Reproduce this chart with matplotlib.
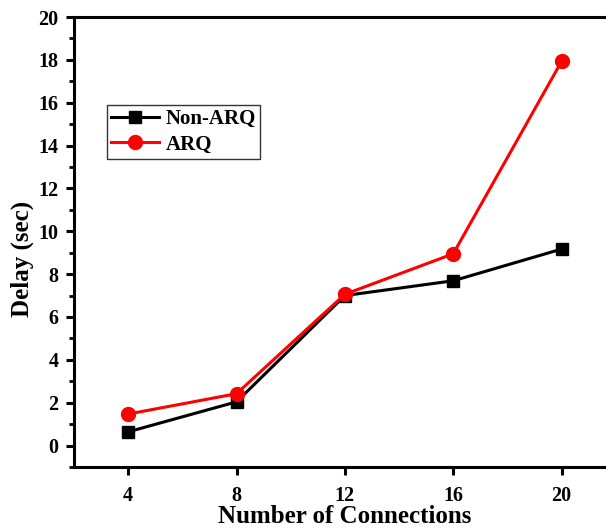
import matplotlib.pyplot as plt
from matplotlib.ticker import MultipleLocator

connections = [4, 8, 12, 16, 20]
non_arq = [0.64, 2.04, 7.0, 7.69, 9.17]
arq = [1.47, 2.42, 7.06, 8.95, 17.93]

plt.rcParams['font.family'] = ['Liberation Serif', 'DejaVu Serif']
plt.rcParams['font.weight'] = 'bold'

fig = plt.figure(figsize=(6.06, 5.30), dpi=100)
ax = fig.add_axes([0.1221, 0.1189, 0.894, 0.849])

ax.plot(connections, non_arq, color="black", lw=2.2, marker="s", ms=9, label="Non-ARQ")
ax.plot(connections, arq, color="red", lw=2.2, marker="o", ms=10, label="ARQ")

ax.set_xlim(2, 22)
ax.set_ylim(-1, 20)
ax.set_xticks(connections)
ax.yaxis.set_major_locator(MultipleLocator(2))
ax.yaxis.set_minor_locator(MultipleLocator(1))

for s in ax.spines.values():
    s.set_linewidth(2.2)
ax.tick_params(which="major", direction="out", length=6, width=2.2, labelsize=14.5)
ax.tick_params(axis="x", which="major", pad=8)
ax.tick_params(axis="y", which="major", pad=5)
ax.tick_params(which="minor", direction="out", length=3.5, width=2)
for lab in ax.get_xticklabels() + ax.get_yticklabels():
    lab.set_fontweight("bold")

ax.set_xlabel("Number of Connections", fontsize=18, fontweight="bold")
ax.set_ylabel("Delay (sec)", fontsize=18, fontweight="bold")
ax.xaxis.set_label_coords(0.5, -0.084)
ax.yaxis.set_label_coords(-0.074, 0.463)

leg = ax.legend(loc="upper left", bbox_to_anchor=(0.061, 0.804), fancybox=False,
                edgecolor="black", prop={"size": 15, "weight": "bold"},
                handlelength=2.3, borderpad=0.2, labelspacing=0.25, handletextpad=0.3,
                borderaxespad=0)
leg.get_frame().set_linewidth(1.0)

plt.savefig("out.png", dpi=100)
